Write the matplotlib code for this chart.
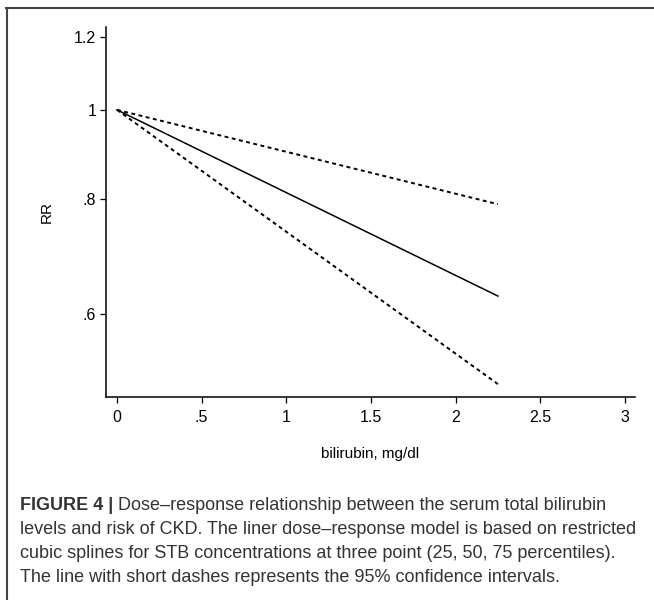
import matplotlib.pyplot as plt
from matplotlib.lines import Line2D
from matplotlib.ticker import FixedLocator, NullLocator

# data
bilirubin = [0, 2.25]
rr = [1.0, 0.628]
rr_low = [1.0, 0.504]
rr_high = [1.0, 0.79]

xticks = [0, 0.5, 1, 1.5, 2, 2.5, 3]
xticklabels = ["0", ".5", "1", "1.5", "2", "2.5", "3"]
yticks = [0.6, 0.8, 1.0, 1.2]
yticklabels = [".6", ".8", "1", "1.2"]

caption_bold = "FIGURE 4 |"
caption_lines = [
    " Dose–response relationship between the serum total bilirubin",
    "levels and risk of CKD. The liner dose–response model is based on restricted",
    "cubic splines for STB concentrations at three point (25, 50, 75 percentiles).",
    "The line with short dashes represents the 95% confidence intervals.",
]

plt.rcParams['font.family'] = ['Liberation Sans', 'DejaVu Sans']

fig = plt.figure(figsize=(6.54, 6.00), dpi=100)
ax = fig.add_axes([106 / 654, 1 - 397 / 600, (635 - 106) / 654, (397 - 27) / 600])

ax.plot(bilirubin, rr, color='black', lw=1.1)
ax.plot(bilirubin, rr_low, color='black', lw=1.4, linestyle=(0, (2, 1.8)))
ax.plot(bilirubin, rr_high, color='black', lw=1.4, linestyle=(0, (2, 1.8)))

ax.set_yscale('log')
ax.set_xlim(-0.065, 3.06)
ax.set_ylim(0.488, 1.23)
ax.yaxis.set_major_locator(FixedLocator(yticks))
ax.yaxis.set_minor_locator(NullLocator())
ax.set_yticklabels(yticklabels)
ax.set_xticks(xticks)
ax.set_xticklabels(xticklabels)

for s in ['top', 'right']:
    ax.spines[s].set_visible(False)
for s in ['left', 'bottom']:
    ax.spines[s].set_linewidth(1.1)
ax.tick_params(length=4.5, width=0.9, labelsize=11.5, pad=2.5)
ax.tick_params(axis='x', pad=5)

ax.set_xlabel("bilirubin, mg/dl", fontsize=11, labelpad=16)
ax.set_ylabel("RR", fontsize=11, labelpad=15)

# frame around the figure
fig.add_artist(Line2D([6 / 654, 653 / 654], [1 - 8 / 600, 1 - 8 / 600],
                      transform=fig.transFigure, color='#444444', lw=1.5))
fig.add_artist(Line2D([6.5 / 654, 6.5 / 654], [1 - 8 / 600, 0],
                      transform=fig.transFigure, color='#444444', lw=1.5))

# caption
cap_color = '#333333'
x0 = 20 / 654
y0 = 1 - 505 / 600
t = fig.text(x0, y0, caption_bold, fontsize=13, fontweight='bold',
             color=cap_color, va='center')
fig.canvas.draw()
bb = t.get_window_extent().transformed(fig.transFigure.inverted())
fig.text(bb.x1, y0, caption_lines[0], fontsize=13, color=cap_color, va='center')
for i, line in enumerate(caption_lines[1:], start=1):
    fig.text(x0, y0 - i * 24.3 / 600, line, fontsize=13, color=cap_color, va='center')

fig.savefig("out.png", dpi=100)
